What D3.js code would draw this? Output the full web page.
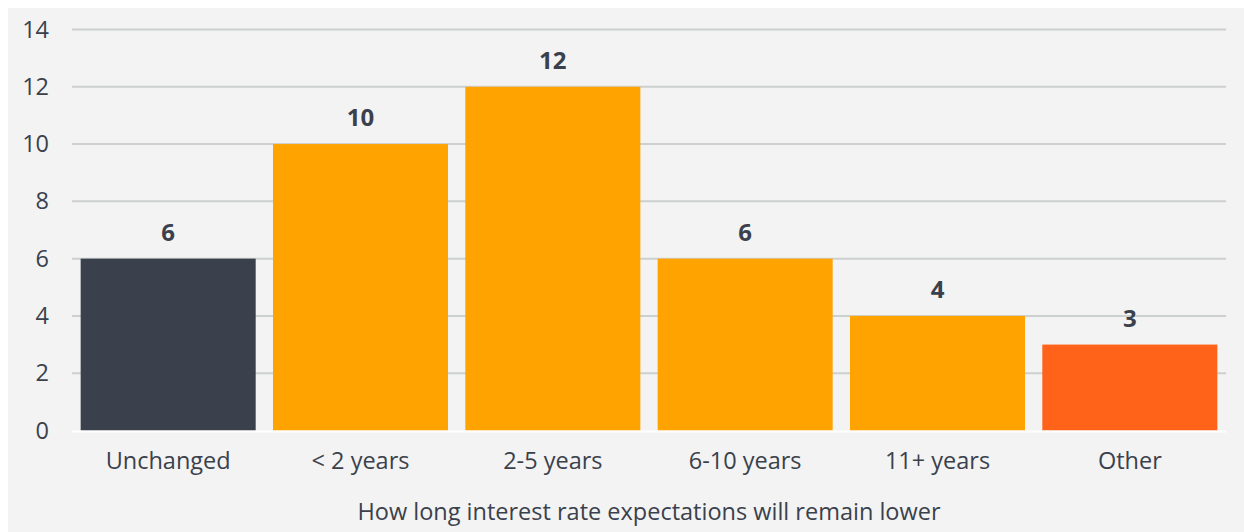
<!DOCTYPE html>
<html>
<head>
<meta charset="utf-8">
<script src="https://cdn.jsdelivr.net/npm/d3@7"></script>
<style>
  html, body { margin: 0; padding: 0; background: #ffffff; }
  svg { display: block; }
  text { font-family: "Open Sans", "Noto Sans", sans-serif; fill: #3a414c; }
</style>
</head>
<body>
<svg id="chart" width="1244" height="532"></svg>
<script>
// Survey answers: how long rate expectations stay lower
const categories = ["Unchanged", "< 2 years", "2-5 years", "6-10 years", "11+ years", "Other"];
const counts = [6, 10, 12, 6, 4, 3];
const barColors = ["#3a414c", "#ffa300", "#ffa300", "#ffa300", "#ffa300", "#ff6319"];
const yTicks = [0, 2, 4, 6, 8, 10, 12, 14];
const xTitle = "How long interest rate expectations will remain lower";

const svg = d3.select("#chart");
const W = 1244, H = 532;

// grey panel
svg.append("rect")
  .attr("x", 8).attr("y", 8)
  .attr("width", W - 8).attr("height", H - 8)
  .attr("fill", "#f3f3f3");

const plot = { left: 72, right: 1226, top: 29.5, bottom: 430.5 };

const x = d3.scaleBand()
  .domain(categories)
  .range([plot.left, plot.right])
  .paddingInner(0.09)
  .paddingOuter(0.045);

const y = d3.scaleLinear()
  .domain([0, 14])
  .range([plot.bottom, plot.top]);

// horizontal grid lines
svg.append("g")
  .selectAll("line")
  .data(yTicks.filter(d => d > 0))
  .join("line")
  .attr("x1", plot.left).attr("x2", plot.right)
  .attr("y1", d => y(d)).attr("y2", d => y(d))
  .attr("stroke", "#ccd0cf")
  .attr("stroke-width", 2);

// y axis labels
const yAxis = d3.axisLeft(y).tickValues(yTicks).tickSize(0).tickPadding(0);
const gy = svg.append("g")
  .attr("transform", `translate(49,0)`)
  .call(yAxis);
gy.select(".domain").remove();
gy.selectAll("text")
  .attr("font-size", 23.5)
  .attr("fill", "#3a414c")
  .style("font-family", '"Open Sans", sans-serif');

// bars
svg.append("g")
  .selectAll("rect")
  .data(categories)
  .join("rect")
  .attr("x", d => x(d))
  .attr("y", (d, i) => y(counts[i]))
  .attr("width", x.bandwidth())
  .attr("height", (d, i) => y(0) - y(counts[i]))
  .attr("fill", (d, i) => barColors[i]);

// baseline
svg.append("line")
  .attr("x1", plot.left).attr("x2", plot.right)
  .attr("y1", y(0) + 1).attr("y2", y(0) + 1)
  .attr("stroke", "#ffffff")
  .attr("stroke-width", 2);

// value labels
svg.append("g")
  .selectAll("text")
  .data(categories)
  .join("text")
  .attr("x", d => x(d) + x.bandwidth() / 2)
  .attr("y", (d, i) => y(counts[i]) - 18)
  .attr("text-anchor", "middle")
  .attr("font-size", 24)
  .attr("font-weight", 700)
  .text((d, i) => counts[i]);

// x axis category labels
const xAxis = d3.axisBottom(x).tickSize(0).tickPadding(0);
const gx = svg.append("g")
  .attr("transform", `translate(0,${y(0)})`)
  .call(xAxis);
gx.select(".domain").remove();
gx.selectAll("text")
  .attr("dy", null)
  .attr("y", 38.5)
  .attr("font-size", 23.5)
  .attr("fill", "#3a414c")
  .style("font-family", '"Open Sans", sans-serif');

// axis title
svg.append("text")
  .attr("x", (plot.left + plot.right) / 2)
  .attr("y", 519.5)
  .attr("text-anchor", "middle")
  .attr("font-size", 23.5)
  .text(xTitle);
</script>
</body>
</html>
